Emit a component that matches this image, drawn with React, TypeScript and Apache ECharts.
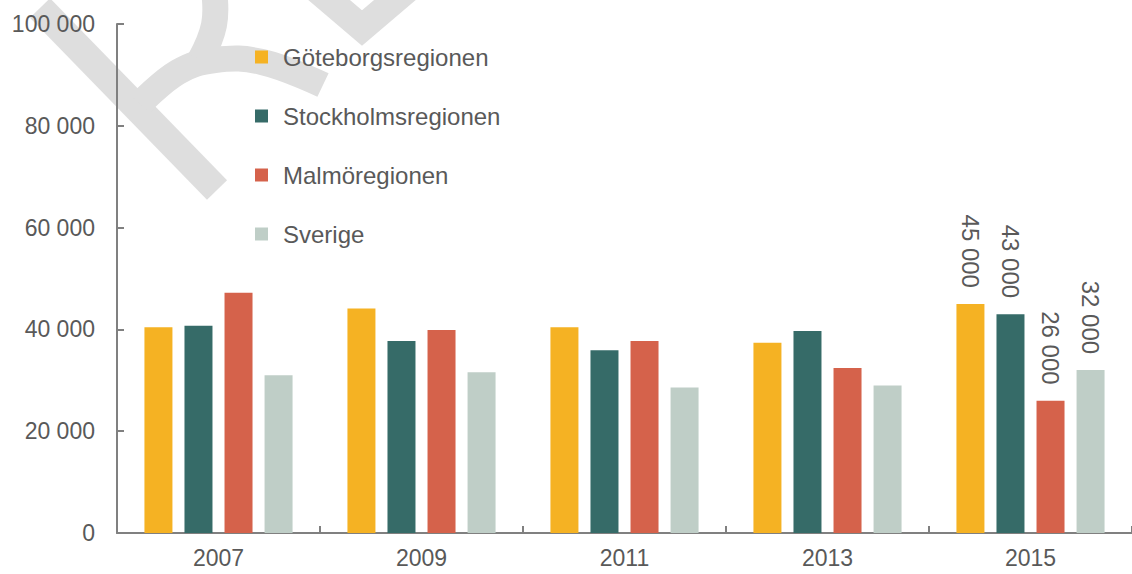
import React, { useEffect, useRef } from "react";
import * as echarts from "echarts";

const years = ["2007", "2009", "2011", "2013", "2015"];
const seriesNames = ["Göteborgsregionen", "Stockholmsregionen", "Malmöregionen", "Sverige"];
const goteborg = [40400, 44100, 40400, 37400, 45000];
const stockholm = [40700, 37700, 35900, 39700, 43000];
const malmo = [47200, 39900, 37700, 32400, 26000];
const sverige = [31000, 31600, 28600, 29000, 32000];
const colors = ["#F5B223", "#366B68", "#D5624B", "#BFCEC7"];
const labelledIndex = 4;

const fmt = (v: number) => String(v).replace(/\B(?=(\d{3})+(?!\d))/g, " ");
const FONT = "'Liberation Sans', Arial, sans-serif";
const TEXT = "#595959";
const AXIS = "#808080";
const WM = "#DEDEDE";

export default function App() {
  const ref = useRef<HTMLDivElement>(null);
  useEffect(() => {
    if (!ref.current) return;
    const chart = echarts.init(ref.current, undefined, { renderer: "svg" });
    const all = [goteborg, stockholm, malmo, sverige];
    chart.setOption({
      animation: false,
      backgroundColor: "#ffffff",
      textStyle: { fontFamily: FONT },
      graphic: [
        {
          type: "polyline",
          z: 0,
          shape: { points: [[40, 8], [217, 190]] },
          style: { stroke: WM, lineWidth: 28, fill: "none" },
        },
        {
          type: "polyline",
          z: 0,
          shape: {
            points: [[140, 104], [178, 72], [215, 60], [262, 62], [323, 85]],
            smooth: 0.4,
          },
          style: { stroke: WM, lineWidth: 26, fill: "none" },
        },
        {
          type: "polyline",
          z: 0,
          shape: { points: [[214, -10], [214, 25], [200, 60]], smooth: 0.4 },
          style: { stroke: WM, lineWidth: 26, fill: "none" },
        },
        {
          type: "polyline",
          z: 0,
          shape: { points: [[315, -12], [362, 28], [409, -12]] },
          style: { stroke: WM, lineWidth: 27, fill: "none", lineJoin: "miter" },
        },
      ],
      legend: {
        orient: "vertical",
        left: 250,
        top: 40,
        itemWidth: 13,
        itemHeight: 13,
        itemGap: 35,
        icon: "rect",
        data: seriesNames,
        textStyle: {
          color: TEXT,
          fontSize: 24,
          fontFamily: FONT,
          lineHeight: 22,
          padding: [0, 0, 0, 10],
        },
      },
      grid: { left: 117, right: 0, top: 24, bottom: 41, containLabel: false },
      xAxis: {
        type: "category",
        data: years,
        axisLine: { show: true, lineStyle: { color: AXIS, width: 2 } },
        axisTick: { show: true, inside: true, length: 7, lineStyle: { color: AXIS, width: 2 } },
        axisLabel: { color: TEXT, fontSize: 23, margin: 13, fontFamily: FONT },
        splitLine: { show: false },
      },
      yAxis: {
        type: "value",
        min: 0,
        max: 100000,
        interval: 20000,
        axisLine: { show: true, lineStyle: { color: AXIS, width: 2 } },
        axisTick: { show: true, inside: true, length: 7, lineStyle: { color: AXIS, width: 2 } },
        axisLabel: { color: TEXT, fontSize: 23, margin: 22, fontFamily: FONT, formatter: (v: number) => fmt(v) },
        splitLine: { show: false },
      },
      series: seriesNames.map((name, si) => ({
        name,
        type: "bar",
        barWidth: 28,
        barGap: "43%",
        itemStyle: { color: colors[si] },
        data: all[si].map((v, i) => ({
          value: v,
          label: {
            show: i === labelledIndex,
            position: "top",
            rotate: -90,
            align: "right",
            verticalAlign: "middle",
            distance: 16,
            color: TEXT,
            fontSize: 24,
            fontFamily: FONT,
            formatter: (p: any) => fmt(p.value),
          },
        })),
      })),
    });
    return () => chart.dispose();
  }, []);
  return (
    <div
      ref={ref}
      style={{ position: "fixed", left: 0, top: 0, width: 1132, height: 574 }}
    />
  );
}
